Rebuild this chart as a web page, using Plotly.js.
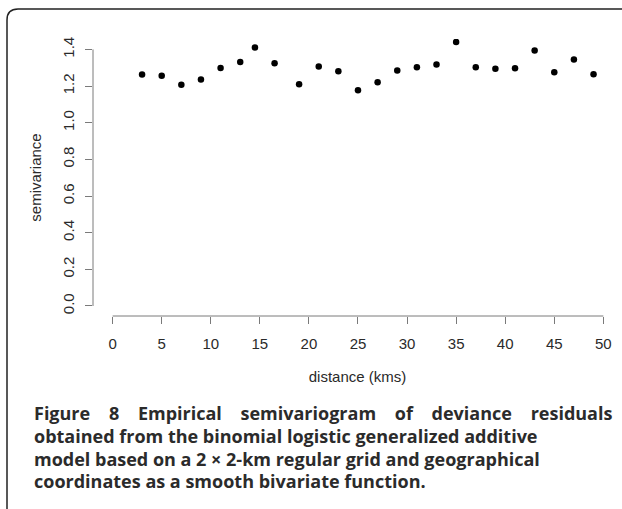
<!DOCTYPE html>
<html>
<head>
<meta charset="utf-8">
<script src="https://cdn.plot.ly/plotly-3.0.1.min.js"></script>
<style>html,body{margin:0;padding:0;background:#fff;}#chart{width:622px;height:509px;}</style>
</head>
<body>
<div id="chart"></div>
<script>
// ---- data ----
var distance = [3, 5, 7, 9, 11, 13, 14.5, 16.5, 19, 21, 23, 25, 27, 29, 31, 33, 35, 37, 39, 41, 43, 45, 47, 49];
var semivariance = [1.263, 1.256, 1.207, 1.236, 1.299, 1.332, 1.411, 1.325, 1.210, 1.307, 1.281, 1.178,
                    1.221, 1.285, 1.303, 1.318, 1.441, 1.303, 1.294, 1.298, 1.394, 1.276, 1.345, 1.265];
var xTicks = [0, 5, 10, 15, 20, 25, 30, 35, 40, 45, 50];
var yTicks = [0.0, 0.2, 0.4, 0.6, 0.8, 1.0, 1.2, 1.4];
var yTickText = ["0.0", "0.2", "0.4", "0.6", "0.8", "1.0", "1.2", "1.4"];
var xTitle = "distance (kms)";
var yTitle = "semivariance";
var G4 = "\u00A0\u00A0\u00A0\u00A0";
var captionLines = [
  "Figure" + G4 + "8" + G4 + "Empirical" + G4 + "semivariogram" + G4 + "of" + G4 + "deviance" + G4 + "residuals",
  "obtained from the binomial logistic generalized additive",
  "model based on a 2 \u00D7 2-km regular grid and geographical",
  "coordinates as a smooth bivariate function."
];

// ---- layout geometry ----
var W = 622, H = 509;
var M = {l: 93, r: 0, t: 39, b: 193};
var pw = W - M.l - M.r, ph = H - M.t - M.b;
function px(x) { return (x - M.l) / pw; }
function py(y) { return (H - M.b - y) / ph; }

var axisCol = "#7a7a7a";
var textCol = "#2a2a2a";
var tickFont = {family: "Liberation Sans, Arial, sans-serif", size: 15, color: textCol};

var annotations = [];
var capY = [413, 436, 458.5, 481];
for (var i = 0; i < captionLines.length; i++) {
  annotations.push({
    xref: "paper", yref: "paper", x: px(33), y: py(capY[i]),
    xanchor: "left", yanchor: "middle", showarrow: false, borderpad: 0,
    text: captionLines[i],
    font: {family: "Open Sans, Noto Sans, sans-serif", size: 18, weight: 700, color: "#2b2b2b"}
  });
}

var shapes = [
  // R-style axis lines spanning only the tick range
  {type: "line", xref: "x", yref: "paper", x0: xTicks[0], x1: xTicks[xTicks.length - 1], y0: 0, y1: 0,
   line: {color: axisCol, width: 1}},
  {type: "line", xref: "paper", yref: "y", x0: 0, x1: 0, y0: yTicks[0], y1: yTicks[yTicks.length - 1],
   line: {color: axisCol, width: 1}},
  // figure frame (top + left with rounded corner)
  {type: "path", xref: "paper", yref: "paper",
   path: "M " + px(7) + "," + py(512) + " L " + px(7) + "," + py(20) +
         " Q " + px(7) + "," + py(9) + " " + px(18) + "," + py(9) +
         " L " + px(622) + "," + py(9),
   line: {color: "#222222", width: 1.5}}
];

var trace = {
  type: "scatter", mode: "markers",
  x: distance, y: semivariance,
  marker: {color: "#000000", size: 6.5, line: {width: 0}},
  hoverinfo: "x+y"
};

var layout = {
  width: W, height: H,
  margin: M,
  paper_bgcolor: "#ffffff", plot_bgcolor: "#ffffff",
  showlegend: false,
  xaxis: {
    range: [-2.0, 51.9], showgrid: false, zeroline: false, showline: false,
    tickmode: "array", tickvals: xTicks, ticktext: xTicks.map(String),
    ticks: "outside", ticklen: 7, tickwidth: 1, tickcolor: axisCol,
    tickfont: tickFont, ticklabelstandoff: 7,
    title: {text: xTitle, font: tickFont, standoff: 20}
  },
  yaxis: {
    range: [-0.0546, 1.457], showgrid: false, zeroline: false, showline: false,
    tickmode: "array", tickvals: yTicks, ticktext: yTickText,
    ticks: "outside", ticklen: 7, tickwidth: 1, tickcolor: axisCol,
    tickangle: -90, tickfont: tickFont, ticklabelstandoff: 5,
    title: {text: yTitle, font: tickFont, standoff: 14}
  },
  shapes: shapes,
  annotations: annotations
};

Plotly.newPlot("chart", [trace], layout, {displayModeBar: false, staticPlot: true});
</script>
</body>
</html>
